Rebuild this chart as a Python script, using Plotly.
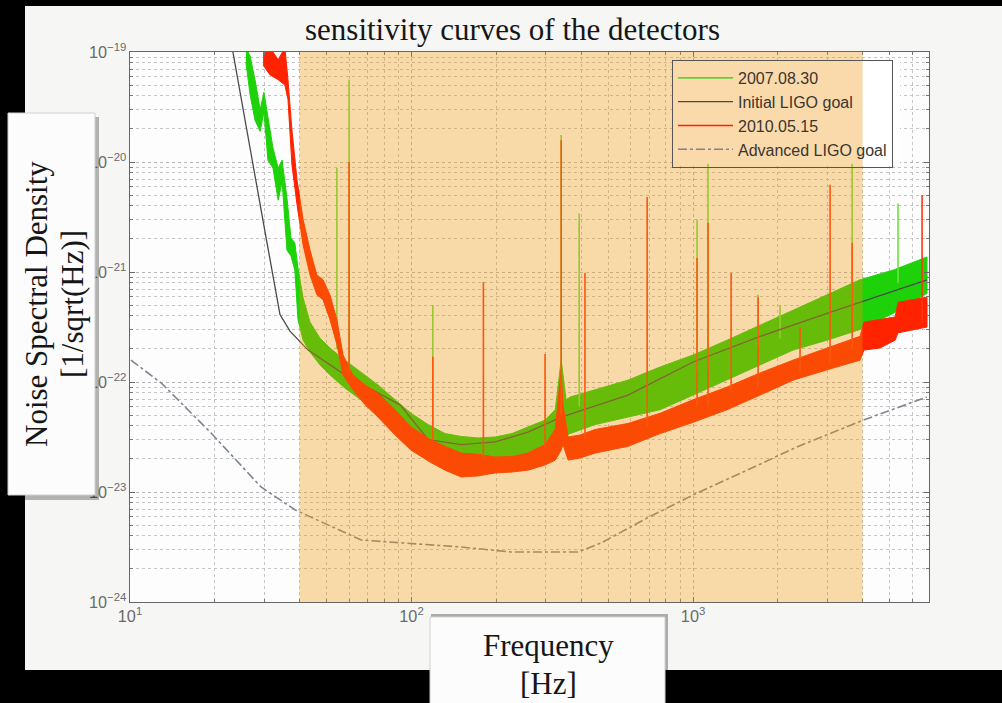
import plotly.graph_objects as go

# ---------------- data ----------------
# 2007.08.30 noise band: upper / lower envelopes
green_freq = [25.8, 26.7, 27.8, 29.0, 29.9, 30.9, 32.2, 33.6, 34.7, 36.1, 37.3, 38.5, 39.5, 41.2, 43.6,
              47.3, 51.3, 58.0, 66.2, 76.0, 87.4, 99.6, 114.5, 131.5, 150, 172, 198, 227.5, 259, 298,
              324, 340, 354, 366, 449, 587, 764, 1000, 1321, 1730, 2265, 2991, 3917, 5130, 6776]
green_hi = [1.1e-19, 9.2e-20, 5.6e-20, 3.0e-20, 4.3e-20, 2.5e-20, 1.34e-20, 8.8e-21, 1.04e-20, 4.7e-21,
            2.04e-21, 1.84e-21, 1.09e-21, 5.8e-22, 3.5e-22, 2.5e-22, 2.04e-22, 1.58e-22, 1.23e-22, 9.4e-23,
            6.9e-23, 5.2e-23, 4.1e-23, 3.4e-23, 3.2e-23, 3.1e-23, 3.16e-23, 3.4e-23, 3.9e-23, 4.5e-23,
            5.6e-23, 1.58e-22, 6.9e-23, 7.3e-23, 8.5e-23, 1.04e-22, 1.37e-22, 1.76e-22, 2.4e-22, 3.3e-22,
            4.5e-22, 6.2e-22, 8.5e-22, 1.04e-21, 1.37e-21]
green_lo = [8.1e-20, 4.1e-20, 2.4e-20, 1.9e-20, 2.85e-20, 1.04e-20, 8.8e-21, 4.5e-21, 6.6e-21, 1.58e-21,
            1.40e-21, 1.04e-21, 3.7e-22, 2.4e-22, 1.87e-22, 1.43e-22, 1.16e-22, 8.8e-23, 6.9e-23, 5.3e-23,
            3.9e-23, 3.0e-23, 2.4e-23, 2.08e-23, 1.95e-23, 1.95e-23, 2.04e-23, 2.08e-23, 2.08e-23, 2.3e-23,
            2.4e-23, 3.7e-23, 3.3e-23, 3.4e-23, 4.1e-23, 4.8e-23, 5.6e-23, 7.6e-23, 1.04e-22, 1.43e-22,
            1.95e-22, 2.4e-22, 3.0e-22, 4.2e-22, 6.4e-22]

# 2010.05.15 noise band: upper / lower envelopes
red_freq = [29.7, 31.4, 33.6, 35.5, 36.4, 37.6, 39.2, 41.2, 43.6, 46.1, 48.5, 51.3, 54.3, 57.1, 61.9,
            68.4, 76.0, 87.4, 99.6, 116.4, 131.5, 150, 172, 198, 227.5, 259, 298, 324, 340, 345,
            360, 397, 449, 587, 764, 1000, 1321, 1730, 2265, 2991, 3917, 4046, 4613, 5220, 5346, 6776]
red_hi = [1.1e-19, 1.1e-19, 8.5e-20, 1.1e-19, 5.6e-20, 1.95e-20, 6.9e-21, 3.0e-21, 1.58e-21, 9.4e-22,
          8.5e-22, 6.2e-22, 3.7e-22, 1.76e-22, 1.16e-22, 9.4e-23, 7.9e-23, 5.6e-23, 3.9e-23, 3.0e-23,
          2.6e-23, 2.26e-23, 2.2e-23, 2.08e-23, 2.1e-23, 2.26e-23, 2.7e-23, 3.7e-23, 1.29e-22, 6.2e-23,
          3.16e-23, 3.3e-23, 3.7e-23, 4.2e-23, 5.2e-23, 6.9e-23, 9.0e-23, 1.21e-22, 1.58e-22, 2.04e-22,
          2.6e-22, 3.5e-22, 3.7e-22, 3.9e-22, 5.3e-22, 5.9e-22]
red_lo = [7.6e-20, 6.2e-20, 5.6e-20, 5.0e-20, 3.7e-20, 9.4e-21, 4.1e-21, 1.76e-21, 9.4e-22, 6.2e-22,
          5.6e-22, 3.7e-22, 2.2e-22, 1.16e-22, 8.5e-23, 6.2e-23, 4.8e-23, 3.3e-23, 2.4e-23, 1.87e-23,
          1.58e-23, 1.37e-23, 1.40e-23, 1.49e-23, 1.52e-23, 1.58e-23, 1.76e-23, 1.95e-23, 2.4e-23, 2.7e-23,
          1.95e-23, 2.04e-23, 2.26e-23, 2.6e-23, 3.4e-23, 4.3e-23, 5.6e-23, 7.6e-23, 1.04e-22, 1.29e-22,
          1.58e-22, 1.95e-22, 2.04e-22, 2.4e-22, 2.8e-22, 3.16e-22]

# narrow spectral lines
green_spike_freq = [54.3, 60.0, 119, 340, 394, 1033, 1130, 1702, 2037, 3673, 5346]
green_spike_base = [2.0e-22, 1.5e-22, 3.5e-23, 5.0e-23, 6.0e-23, 1.2e-22, 1.3e-22, 2.0e-22, 2.5e-22, 5.0e-22, 8.0e-22]
green_spike_peak = [8.8e-21, 5.6e-20, 5.0e-22, 1.76e-20, 3.4e-21, 3.0e-21, 1.34e-20, 6.2e-22, 5.0e-22, 1.58e-20, 4.2e-21]

red_spike_freq = [60.0, 119, 180, 298, 340, 413, 687, 1033, 1130, 1365, 1702, 2399, 3067, 3673, 6507]
red_spike_base = [1.2e-22, 3.0e-23, 2.0e-23, 2.5e-23, 5.0e-23, 3.0e-23, 4.0e-23, 6.0e-23, 6.0e-23, 8.0e-23,
                  9.0e-23, 1.2e-22, 1.5e-22, 2.0e-22, 3.5e-22]
red_spike_peak = [1.0e-20, 1.7e-22, 8.1e-22, 1.8e-22, 1.58e-20, 9.8e-22, 4.8e-21, 1.34e-21, 2.8e-21, 9.8e-22,
                  5.9e-22, 3.16e-22, 6.2e-21, 1.84e-21, 5.0e-21]

# design curves
init_freq = [22.0, 23.2, 29.7, 34.1, 37.0, 40.1, 42.9, 58.0, 91.0, 114.5, 150, 198, 259, 340, 587, 1000, 1730, 2991, 6776]
init_asd = [1.8e-19, 1.0e-19, 2.9e-21, 4.1e-22, 2.9e-22, 2.36e-22, 1.95e-22, 1.16e-22, 6.2e-23, 3.0e-23,
            2.7e-23, 2.85e-23, 3.5e-23, 4.8e-23, 7.6e-23, 1.52e-22, 2.6e-22, 4.2e-22, 8.5e-22]

adv_freq = [10.08, 12.9, 19.4, 29.2, 38.5, 66.2, 150, 225, 390, 471, 687, 1033, 1556, 2340, 4018, 6770]
adv_asd = [1.58e-22, 9.8e-23, 3.44e-23, 1.11e-23, 6.9e-24, 3.66e-24, 3.16e-24, 2.85e-24, 2.85e-24, 3.44e-24,
           5.8e-24, 9.8e-24, 1.58e-23, 2.57e-23, 4.5e-23, 7.3e-23]

band_range_hz = [40, 4000]   # highlighted band

legend_names = ["2007.08.30", "Initial LIGO goal", "2010.05.15", "Advanced LIGO goal"]

# ---------------- styling ----------------
GREEN = "rgb(30,210,10)"
GREEN_SPIKE = "rgb(110,225,70)"
RED = "rgb(255,35,0)"
RED_SPIKE = "rgb(255,55,15)"
DARK = "#4a4a4a"
ADV = "#7f8590"

W, H = 1002, 703
L, R, T, B = 130, 929, 52, 602


def px(xp):
    return (xp - L) / (R - L)


def py(yp):
    return (B - yp) / (B - T)


def spikes(freqs, bases, peaks):
    xs, ys = [], []
    for f, b, p in zip(freqs, bases, peaks):
        xs += [f, f, None]
        ys += [b, p, None]
    return xs, ys


fig = go.Figure()

# green band
fig.add_trace(go.Scatter(x=green_freq + green_freq[::-1], y=green_hi + green_lo[::-1],
                         fill="toself", fillcolor=GREEN, mode="lines",
                         line=dict(color=GREEN, width=1), showlegend=False, hoverinfo="skip"))
gx, gy = spikes(green_spike_freq, green_spike_base, green_spike_peak)
fig.add_trace(go.Scatter(x=gx, y=gy, mode="lines", line=dict(color=GREEN_SPIKE, width=1.6),
                         showlegend=False, hoverinfo="skip"))
# initial LIGO goal
fig.add_trace(go.Scatter(x=init_freq, y=init_asd, mode="lines", line=dict(color=DARK, width=1.3),
                         name=legend_names[1], legendrank=2))
# red band
fig.add_trace(go.Scatter(x=red_freq + red_freq[::-1], y=red_hi + red_lo[::-1],
                         fill="toself", fillcolor=RED, mode="lines",
                         line=dict(color=RED, width=1), showlegend=False, hoverinfo="skip"))
rx, ry = spikes(red_spike_freq, red_spike_base, red_spike_peak)
fig.add_trace(go.Scatter(x=rx, y=ry, mode="lines", line=dict(color=RED_SPIKE, width=1.6),
                         showlegend=False, hoverinfo="skip"))
# advanced LIGO goal
fig.add_trace(go.Scatter(x=adv_freq, y=adv_asd, mode="lines",
                         line=dict(color=ADV, width=1.6, dash="dashdot"),
                         name=legend_names[3], legendrank=4))
# legend entries for the bands
fig.add_trace(go.Scatter(x=[None], y=[None], mode="lines", line=dict(color=GREEN, width=1.3),
                         name=legend_names[0], legendrank=1))
fig.add_trace(go.Scatter(x=[None], y=[None], mode="lines", line=dict(color=RED, width=1.3),
                         name=legend_names[2], legendrank=3))

shapes = []
# legend white backing
shapes.append(dict(type="rect", xref="paper", yref="paper", x0=px(672), x1=px(900), y0=py(164), y1=py(60),
                   fillcolor="white", line=dict(width=0), layer="above"))
# orange highlight overlay
shapes.append(dict(type="rect", xref="x", yref="paper", x0=band_range_hz[0], x1=band_range_hz[1], y0=0, y1=1,
                   fillcolor="rgb(241,149,12)", opacity=0.35, line=dict(width=0), layer="above"))
# slide black borders
shapes.append(dict(type="rect", xref="paper", yref="paper", x0=px(-5), x1=px(W + 5), y0=py(6), y1=py(-5),
                   fillcolor="black", line=dict(width=0), layer="above"))
shapes.append(dict(type="rect", xref="paper", yref="paper", x0=px(-5), x1=px(25), y0=py(H + 5), y1=py(-5),
                   fillcolor="black", line=dict(width=0), layer="above"))
shapes.append(dict(type="rect", xref="paper", yref="paper", x0=px(-5), x1=px(W + 5), y0=py(H + 5), y1=py(670),
                   fillcolor="black", line=dict(width=0), layer="above"))
# y label box (shadow + box)
shapes.append(dict(type="rect", xref="paper", yref="paper", x0=px(11), x1=px(99), y0=py(500), y1=py(117),
                   fillcolor="rgba(0,0,0,0.28)", line=dict(width=0), layer="above"))
shapes.append(dict(type="rect", xref="paper", yref="paper", x0=px(8), x1=px(95), y0=py(495), y1=py(113),
                   fillcolor="#fbfcfb", line=dict(color="#d0d0d0", width=1), layer="above"))
# x label box (shadow + box)
shapes.append(dict(type="rect", xref="paper", yref="paper", x0=px(431), x1=px(668), y0=py(H + 5), y1=py(614),
                   fillcolor="rgba(0,0,0,0.30)", line=dict(width=0), layer="above"))
shapes.append(dict(type="rect", xref="paper", yref="paper", x0=px(430), x1=px(665), y0=py(H + 5), y1=py(617),
                   fillcolor="#fbfcfb", line=dict(color="#d0d0d0", width=1), layer="above"))

serif = "Liberation Serif, Times New Roman, serif"
annotations = [
    dict(text="sensitivity curves of the detectors", x=px(512), y=py(30), xref="paper", yref="paper",
         showarrow=False, font=dict(family=serif, size=31, color="#161616"), xanchor="center", yanchor="middle"),
    dict(text="Noise Spectral Density", x=px(36), y=py(304), xref="paper", yref="paper", textangle=-90,
         showarrow=False, font=dict(family=serif, size=31, color="#161616"), xanchor="center", yanchor="middle"),
    dict(text="[1/sqrt(Hz)]", x=px(72), y=py(304), xref="paper", yref="paper", textangle=-90,
         showarrow=False, font=dict(family=serif, size=31, color="#161616"), xanchor="center", yanchor="middle"),
    dict(text="Frequency", x=px(548), y=py(645), xref="paper", yref="paper",
         showarrow=False, font=dict(family=serif, size=31, color="#161616"), xanchor="center", yanchor="middle"),
    dict(text="[Hz]", x=px(548), y=py(683), xref="paper", yref="paper",
         showarrow=False, font=dict(family=serif, size=31, color="#161616"), xanchor="center", yanchor="middle"),
]

axis_common = dict(
    type="log", dtick=1, exponentformat="power", showexponent="all",
    showline=True, linecolor="#666", linewidth=1, mirror="ticks",
    ticks="inside", ticklen=5, tickcolor="#666",
    showgrid=True, gridcolor="#b5b5b5", griddash="dot", gridwidth=1,
    minor=dict(ticks="inside", ticklen=3, tickcolor="#777", showgrid=True,
               gridcolor="#c4c4c4", griddash="dot", gridwidth=1),
    tickfont=dict(family="Liberation Sans, Arial, sans-serif", size=13, color="#6a6a6a"),
    zeroline=False,
)

fig.update_layout(
    width=W, height=H,
    margin=dict(l=L, r=W - R, t=T, b=H - B),
    paper_bgcolor="#f6f7f5", plot_bgcolor="#fcfdfc",
    xaxis=dict(range=[1, 3.838], labelalias={"10": "10<sup>1</sup>"}, **axis_common),
    yaxis=dict(range=[-24, -19], **axis_common),
    shapes=shapes, annotations=annotations,
    showlegend=True,
    legend=dict(x=px(672), y=py(60), xanchor="left", yanchor="top",
                bgcolor="rgba(0,0,0,0)", bordercolor="#555", borderwidth=1,
                font=dict(family="Liberation Sans, Arial, sans-serif", size=16, color="#3a3530"),
                itemwidth=55, tracegroupgap=0),
)

fig.write_html("out.html")
